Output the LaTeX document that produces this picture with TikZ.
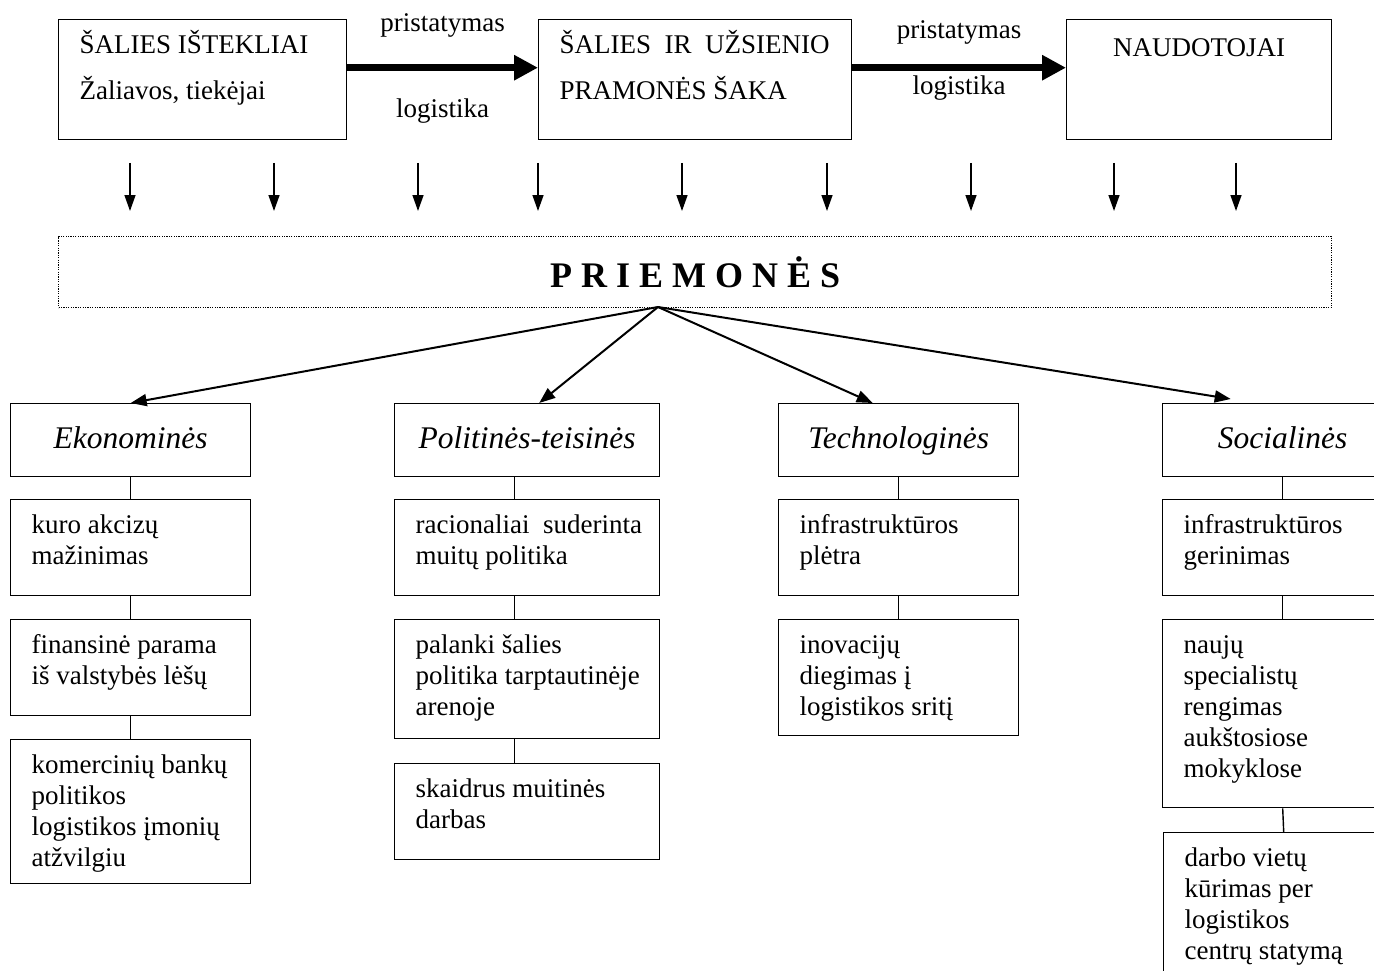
\documentclass[tikz,border=0pt]{standalone}
\usepackage{fontspec}
\setmainfont{Liberation Serif}
\usetikzlibrary{arrows.meta, positioning}

% text set from the top of a box: width, height, lines
\newcommand{\cell}[3]{\parbox[t][#2pt][t]{#1pt}{\raggedright\leftskip=21pt\rule{0pt}{34pt}#3}}

\begin{document}
\begin{tikzpicture}[
    x=1pt, y=-1pt,
    box/.style={draw, line width=1.4pt, anchor=north west, inner sep=0pt, font=\fontsize{27}{46}\selectfont},
    item/.style={draw, line width=1.4pt, anchor=north west, inner sep=0pt, font=\fontsize{27}{31}\selectfont},
    kind/.style={draw, line width=1.4pt, anchor=north west, inner sep=0pt, minimum height=73pt,
                 text height=24pt, text depth=7pt, font=\fontsize{31.5}{36}\selectfont\itshape},
    flow/.style={line width=7pt, -{Triangle[length=24pt,width=24pt]}},
    drop/.style={line width=1.4pt, -{Triangle[length=16pt,width=11pt]}},
    fan/.style={line width=2pt, -{Triangle[length=16pt,width=12pt]}},
    link/.style={line width=1.4pt},
    lbl/.style={font=\fontsize{27}{31}\selectfont, anchor=base}
]
    \useasboundingbox (0,0) rectangle (1374,971);

    % chain on top
    \node[box] (src) at (58,19) {\cell{288}{120}{ŠALIES IŠTEKLIAI\\ Žaliavos, tiekėjai}};
    \node[box] (ind) at (538,19) {\cell{313}{120}{ŠALIES\ \ IR\ \ UŽSIENIO\\ PRAMONĖS ŠAKA}};
    \node[box] (usr) at (1066,19) {\parbox[t][120pt][t]{265pt}{\centering\rule{0pt}{37pt}NAUDOTOJAI}};

    \draw[flow] ([yshift=12pt]src.east) -- ([yshift=12pt]ind.west)
        node[lbl, midway, yshift=36pt] {pristatymas}
        node[lbl, midway, yshift=-50pt] {logistika};
    \draw[flow] ([yshift=12pt]ind.east) -- ([yshift=12pt]usr.west)
        node[lbl, midway, yshift=29pt] {pristatymas}
        node[lbl, midway, yshift=-27pt] {logistika};

    \foreach \x in {130,274,418,538,682,827,971,1114,1236}
        \draw[drop] (\x,163) -- (\x,211);

    \node[draw, line width=1.2pt, dash pattern=on 1.2pt off 1.2pt, anchor=north west, inner sep=0pt,
          minimum width=1273pt, minimum height=71pt, font=\fontsize{36}{40}\selectfont\bfseries]
          (prm) at (58,236) {P R I E M O N Ė S};
    \coordinate (apex) at (658,307);

    % four groups
    \node[kind, minimum width=240pt] (eko) at (10,403) {Ekonominės};
    \node[kind, minimum width=265pt] (pol) at (394,403) {Politinės-teisinės};
    \node[kind, minimum width=240pt] (tec) at (778,403) {Technologinės};
    \node[kind, minimum width=240pt] (soc) at (1162,403) {Socialinės};

    \draw[fan] (apex) -- (eko.north);
    \draw[fan] (apex) -- ([xshift=12pt]pol.north);
    \draw[fan] (apex) -- ([xshift=-26pt]tec.north);
    \draw[fan] (apex) -- ([xshift=-52pt,yshift=4pt]soc.north);

    % Ekonomines
    \node[item] (e1) at (10,499) {\cell{240}{96}{kuro akcizų\\ mažinimas}};
    \node[item] (e2) at (10,619) {\cell{240}{96}{finansinė parama\\ iš valstybės lėšų}};
    \node[item] (e3) at (10,739) {\cell{240}{144}{komercinių bankų\\ politikos\\ logistikos įmonių\\ atžvilgiu}};
    \draw[link] (eko.south) -- (e1.north);
    \draw[link] (e1.south) -- (e2.north);
    \draw[link] (e2.south) -- (e3.north);

    % Politines-teisines
    \node[item] (p1) at (394,499) {\cell{265}{96}{racionaliai\ \ suderinta\\ muitų politika}};
    \node[item] (p2) at (394,619) {\cell{265}{119}{palanki šalies\\ politika tarptautinėje\\ arenoje}};
    \node[item] (p3) at (394,763) {\cell{265}{96}{skaidrus muitinės\\ darbas}};
    \draw[link] ([xshift=-12.5pt]pol.south) -- ([xshift=-12.5pt]p1.north);
    \draw[link] ([xshift=-12.5pt]p1.south) -- ([xshift=-12.5pt]p2.north);
    \draw[link] ([xshift=-12.5pt]p2.south) -- ([xshift=-12.5pt]p3.north);

    % Technologines
    \node[item] (t1) at (778,499) {\cell{240}{96}{infrastruktūros\\ plėtra}};
    \node[item] (t2) at (778,619) {\cell{240}{116}{inovacijų\\ diegimas į\\ logistikos sritį}};
    \draw[link] (tec.south) -- (t1.north);
    \draw[link] (t1.south) -- (t2.north);

    % Socialines
    \node[item] (s1) at (1162,499) {\cell{240}{96}{infrastruktūros\\ gerinimas}};
    \node[item] (s2) at (1162,619) {\cell{240}{188}{naujų\\ specialistų\\ rengimas\\ aukštosiose\\ mokyklose}};
    \node[item] (s3) at (1163,832) {\cell{240}{170}{darbo vietų\\ kūrimas per\\ logistikos\\ centrų statymą}};
    \draw[link] (soc.south) -- (s1.north);
    \draw[link] (s1.south) -- (s2.north);
    \draw[link] (s2.south) -- (s3.north);
\end{tikzpicture}
\end{document}
